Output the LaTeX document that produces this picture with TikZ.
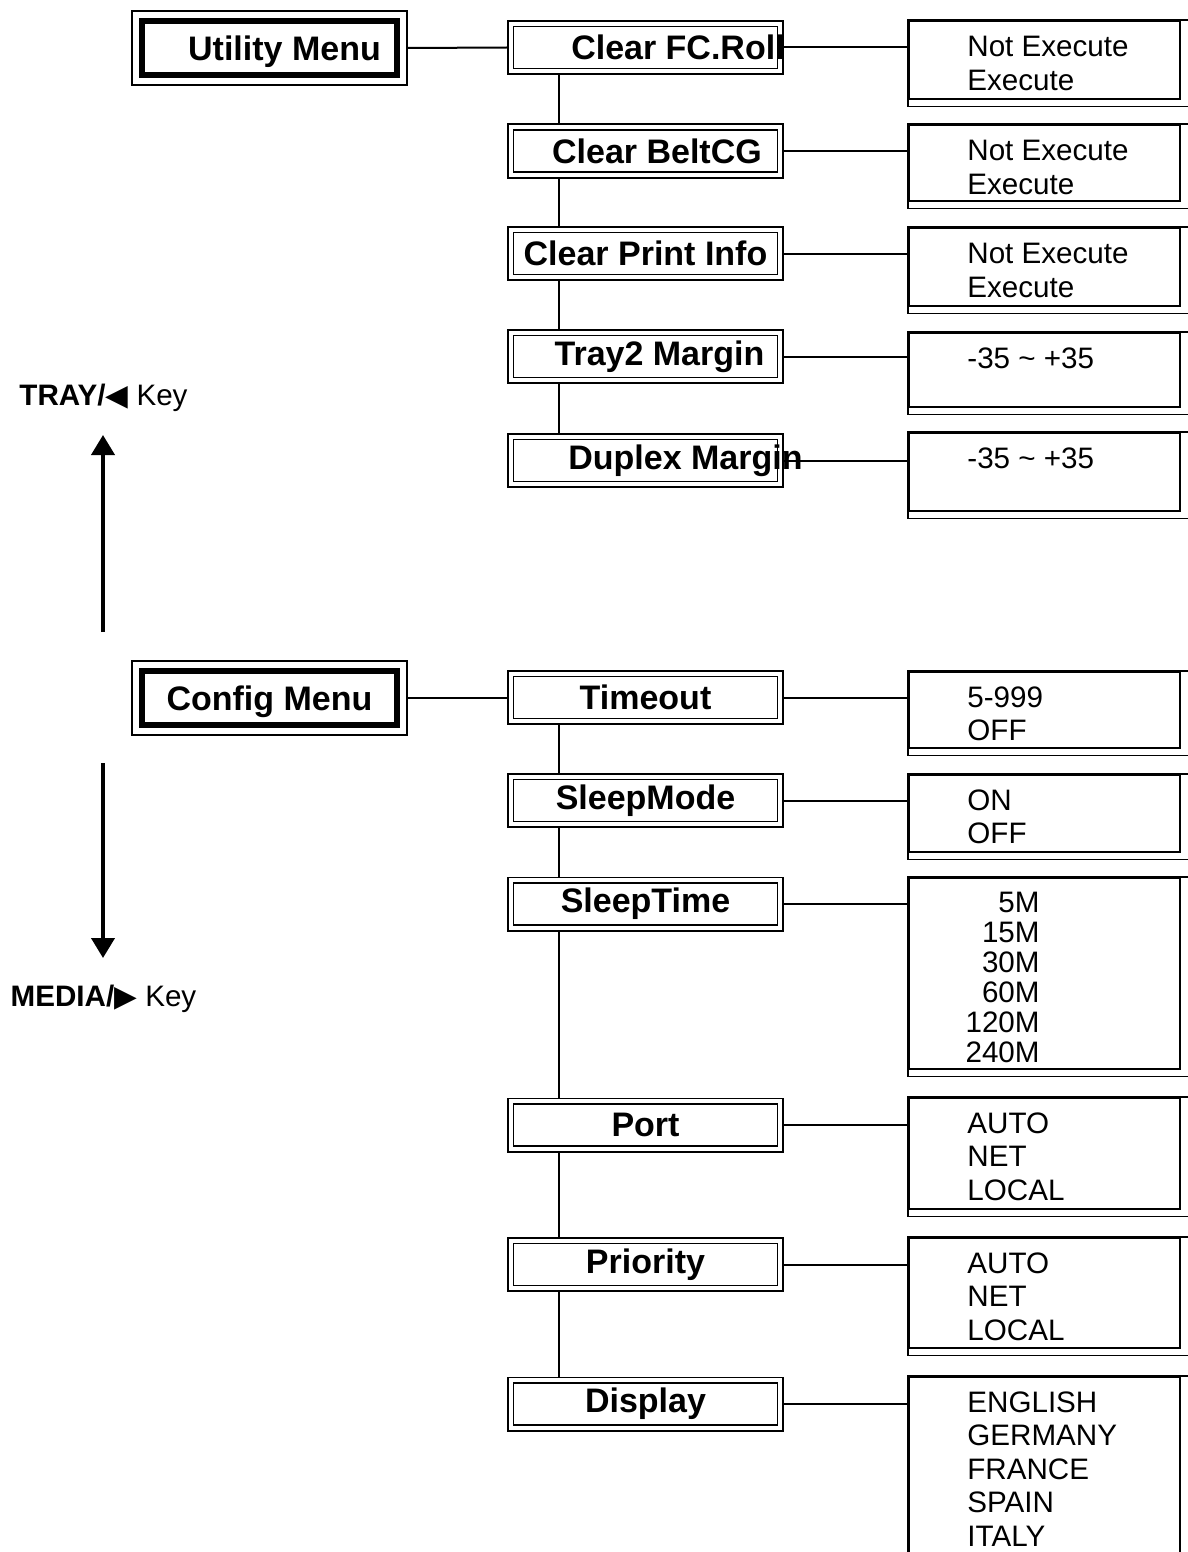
\documentclass[tikz,border=0pt]{standalone}
\usepackage{fontspec}
\setmainfont{Liberation Sans}
\newfontfamily\symfont{DejaVu Sans}
\usetikzlibrary{arrows.meta}

\tikzset{
  menubox/.style={draw, line width=1pt, minimum width=137.5pt, minimum height=37pt,
    inner sep=0pt, font=\fontsize{17}{20}\selectfont\bfseries},
  itembox/.style={draw, line width=.8pt, double, double distance=2pt, outer sep=1.8pt,
    minimum width=134.9pt, minimum height=23.9pt, inner sep=0pt,
    font=\fontsize{17}{20}\selectfont\bfseries},
  itemlabel/.style={font=\fontsize{17}{20}\selectfont\bfseries, inner sep=0pt},
  valbox/.style={draw, line width=1.2pt, anchor=north west, minimum width=135.5pt, inner sep=0pt},
  valtext/.style={anchor=north west, align=left, inner sep=0pt, font=\fontsize{14.8}{16.75}\selectfont},
  keylabel/.style={font=\fontsize{14.8}{17}\selectfont},
  keyarrow/.style={line width=2pt, -{Triangle[length=10pt,width=11.5pt]}},
  link/.style={line width=1pt}
}

\begin{document}
\begin{tikzpicture}[x=0.5pt, y=-0.5pt]
  \clip (0,0) rectangle (1188,1552);

  % menus
  \node[menubox, label={[itemlabel, xshift=7.5pt, yshift=-2pt]center:Utility Menu}] (umenu) at (269.5,48) {};
  \node[menubox, label={[itemlabel, yshift=-2pt]center:Config Menu}] (cmenu) at (269.5,697.5) {};
  \foreach \m in {umenu,cmenu}
    \draw[line width=3pt] ([shift={(11,11)}]\m.north west) rectangle ([shift={(-11,-11)}]\m.south east);

  % utility items
  \node[itembox, label={[itemlabel, xshift=16.25pt]center:Clear FC.Roll}] (fcroll) at (645.5,47.5) {};
  \node[itembox, label={[itemlabel, xshift=5.75pt]center:Clear BeltCG}] (belt) at (645.5,151) {};
  \node[itembox, label={[itemlabel]center:Clear Print Info}] (printinfo) at (645.5,253.5) {};
  \node[itembox, label={[itemlabel, xshift=7pt]center:Tray2 Margin}] (tray) at (645.5,356.5) {};
  \node[itembox, label={[itemlabel, xshift=20pt]center:Duplex Margin}] (duplex) at (645.5,460.5) {};

  % config items
  \node[itembox] (timeout) at (645.5,697.5) {Timeout};
  \node[itembox] (smode) at (645.5,800.5) {SleepMode};
  \node[itembox] (stime) at (645.5,904) {SleepTime};
  \node[itembox] (port) at (645.5,1125) {Port};
  \node[itembox] (prio) at (645.5,1264.5) {Priority};
  \node[itembox] (disp) at (645.5,1404) {Display};

  % value boxes
  \node[valbox, minimum height=39pt] (vfc) at (908,20) {};
  \node[valbox, minimum height=38pt] (vbelt) at (908,124) {};
  \node[valbox, minimum height=39pt] (vprint) at (908,227) {};
  \node[valbox, minimum height=37pt] (vtray) at (908,332) {};
  \node[valbox, minimum height=39pt] (vduplex) at (908,432) {};
  \node[valbox, minimum height=38pt] (vtime) at (908,671) {};
  \node[valbox, minimum height=38.5pt] (vsmode) at (908,774) {};
  \node[valbox, minimum height=95.5pt] (vstime) at (908,877) {};
  \node[valbox, minimum height=55.5pt] (vport) at (908,1097) {};
  \node[valbox, minimum height=55pt] (vprio) at (908,1237) {};
  \node[valbox, minimum height=100pt] (vdisp) at (908,1376) {};
  \foreach \v in {vfc,vbelt,vprint,vtray,vduplex,vtime,vsmode,vstime,vport,vprio,vdisp}
    \draw[line width=.7pt] (\v.north west) rectangle ([shift={(7,6)}]\v.south east);

  % value texts
  \node[valtext] (tfc) at ([shift={(59,16)}]vfc.north west) {Not Execute\\Execute};
  \node[valtext] (tbelt) at ([shift={(59,16)}]vbelt.north west) {Not Execute\\Execute};
  \node[valtext] (tprint) at ([shift={(59,16)}]vprint.north west) {Not Execute\\Execute};
  \node[valtext] (ttray) at ([shift={(59,15)}]vtray.north west) {-35 \textasciitilde{} +35};
  \node[valtext] (tduplex) at ([shift={(59,15)}]vduplex.north west) {-35 \textasciitilde{} +35};
  \node[valtext] (ttime) at ([shift={(59,15)}]vtime.north west) {5-999\\OFF};
  \node[valtext] (tsmode) at ([shift={(59,15)}]vsmode.north west) {ON\\OFF};
  \node[valtext, anchor=north east, align=right, font=\fontsize{14.8}{15}\selectfont]
    (tstime) at ([shift={(132,15)}]vstime.north west) {5M\\15M\\30M\\60M\\120M\\240M};
  \node[valtext] (tport) at ([shift={(59,15)}]vport.north west) {AUTO\\NET\\LOCAL};
  \node[valtext] (tprio) at ([shift={(59,15)}]vprio.north west) {AUTO\\NET\\LOCAL};
  \node[valtext] (tdisp) at ([shift={(59,15)}]vdisp.north west) {ENGLISH\\GERMANY\\FRANCE\\SPAIN\\ITALY};

  % connectors
  \coordinate (chain) at (559,0);
  \draw[link] (umenu.east) -- (fcroll.west);
  \draw[link] (cmenu.east) -- (timeout.west);
  \foreach \a/\b in {fcroll/belt, belt/printinfo, printinfo/tray, tray/duplex,
                     timeout/smode, smode/stime, stime/port, port/prio, prio/disp}
    \draw[link] (\a.south -| chain) -- (\b.north -| chain);
  \foreach \i/\v in {fcroll/vfc, belt/vbelt, printinfo/vprint, tray/vtray, duplex/vduplex,
                     timeout/vtime, smode/vsmode, stime/vstime, port/vport, prio/vprio, disp/vdisp}
    \draw[link] (\i.east) -- (\v.west |- \i.east);

  % keys
  \node[keylabel] (traykey) at (103.5,398) {\textbf{TRAY/}{\symfont ◀} Key};
  \node[keylabel] (mediakey) at (103.5,999) {\textbf{MEDIA/}{\symfont ▶} Key};
  \coordinate (trayfrom) at (103,632);
  \coordinate (trayto) at (103,435);
  \coordinate (mediafrom) at (103,763);
  \coordinate (mediato) at (103,958);
  \draw[keyarrow] (trayfrom) -- (trayto);
  \draw[keyarrow] (mediafrom) -- (mediato);
\end{tikzpicture}
\end{document}
